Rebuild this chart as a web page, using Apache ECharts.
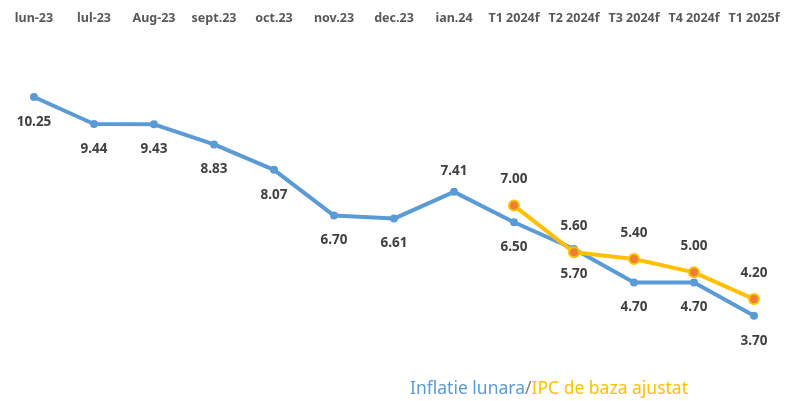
<!DOCTYPE html>
<html>
<head>
<meta charset="utf-8">
<script src="https://cdn.jsdelivr.net/npm/echarts@6/dist/echarts.min.js"></script>
<style>
  html, body { margin: 0; padding: 0; background: #fff; }
  #main { width: 785px; height: 401px; }
</style>
</head>
<body>
<div id="main"></div>
<script>
var categories = ['lun-23', 'lul-23', 'Aug-23', 'sept.23', 'oct.23', 'nov.23', 'dec.23',
    'ian.24', 'T1 2024f', 'T2 2024f', 'T3 2024f', 'T4 2024f', 'T1 2025f'];
var inflatieLunara = [10.25, 9.44, 9.43, 8.83, 8.07, 6.70, 6.61, 7.41, 6.50, 5.70, 4.70, 4.70, 3.70];
var ipcBaza = ['-', '-', '-', '-', '-', '-', '-', '-', 7.00, 5.60, 5.40, 5.00, 4.20];
// blue labels sit below the line except at ian.24
var blueAbove = [7];

var myChart = echarts.init(document.getElementById('main'));

var blueData = inflatieLunara.map(function (v, i) {
    var d = { value: v };
    if (blueAbove.indexOf(i) >= 0) {
        d.label = { position: 'top', distance: 10 };
    }
    return d;
});

var labelStyle = {
    show: true,
    fontFamily: 'Noto Sans',
    fontSize: 13.5,
    fontWeight: 'bold',
    color: '#404040',
    formatter: function (p) { return Number(p.value).toFixed(2); }
};

var option = {
    animation: false,
    title: {
        text: '{a|Inflatie lunara}{b|/}{c|IPC de baza ajustat}',
        left: 405,
        top: 375,
        textStyle: {
            fontWeight: 'normal',
            rich: {
                a: { color: '#5B9BD5', fontSize: 17.5, fontFamily: 'Noto Sans', fontWeight: 'normal' },
                b: { color: '#7F7F7F', fontSize: 17.5, fontFamily: 'Noto Sans', fontWeight: 'normal' },
                c: { color: '#FFC000', fontSize: 17.5, fontFamily: 'Noto Sans', fontWeight: 'normal' }
            }
        }
    },
    grid: { left: 4, right: 1, top: 38.5, bottom: 28.4 },
    xAxis: {
        type: 'category',
        position: 'top',
        data: categories,
        axisLine: { show: false },
        axisTick: { show: false },
        axisLabel: {
            interval: 0,
            margin: 14,
            fontFamily: 'Noto Sans',
            fontSize: 12.5,
            fontWeight: 'bold',
            color: '#595959'
        }
    },
    yAxis: {
        type: 'value',
        min: 2,
        max: 12,
        show: false,
        splitLine: { show: false }
    },
    series: [{
        name: 'Inflatie lunara',
        type: 'line',
        data: blueData,
        symbol: 'circle',
        symbolSize: 8,
        lineStyle: { color: '#5B9BD5', width: 4 },
        itemStyle: { color: '#5B9BD5' },
        label: Object.assign({ position: 'bottom', distance: 14 }, labelStyle),
        z: 2
    }, {
        name: 'IPC de baza ajustat',
        type: 'line',
        data: ipcBaza,
        symbol: 'circle',
        symbolSize: 10,
        lineStyle: { color: '#FFC000', width: 4 },
        itemStyle: { color: '#ED7D31', borderColor: '#FFC000', borderWidth: 2 },
        label: Object.assign({ position: 'top', distance: 13 }, labelStyle),
        z: 3
    }]
};
myChart.setOption(option);
</script>
</body>
</html>
